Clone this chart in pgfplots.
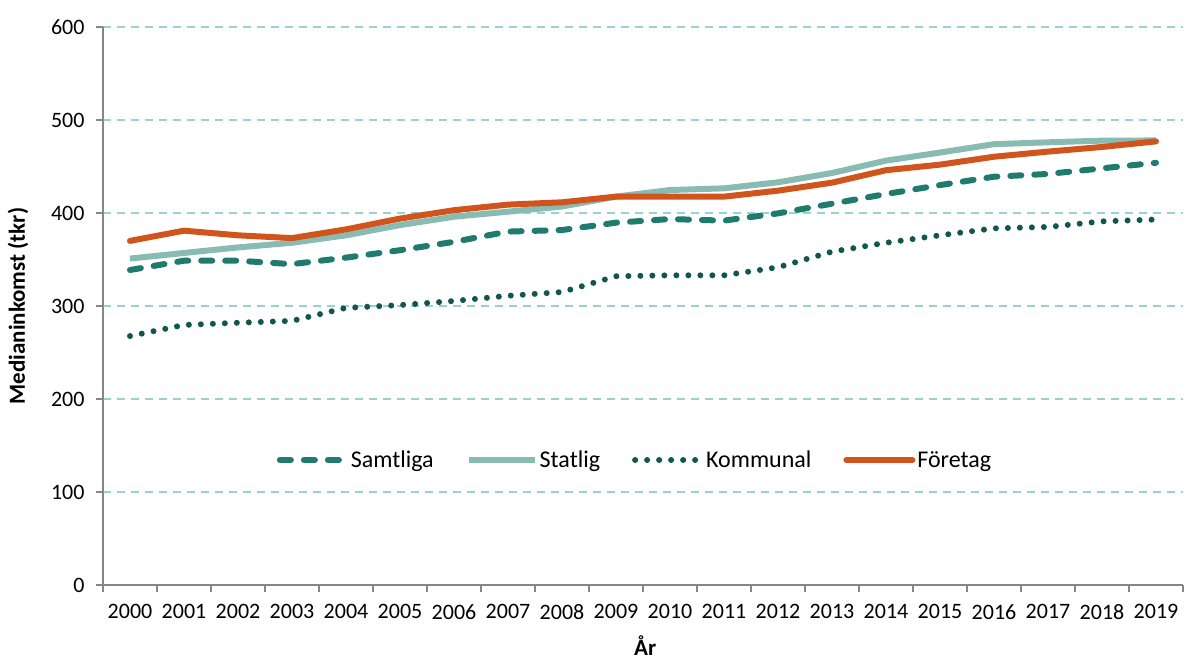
\documentclass[border=0pt]{standalone}
\usepackage{pgfplots}
\pgfplotsset{compat=1.18}
\usepackage{fontspec}
\setmainfont{Carlito}
\definecolor{samt}{HTML}{1F7B6E}
\definecolor{stat}{HTML}{88BCB2}
\definecolor{komm}{HTML}{13564E}
\definecolor{fore}{HTML}{D0541C}
\definecolor{gridc}{HTML}{99D3D0}
\definecolor{axc}{HTML}{868686}
\begin{document}
\begin{tikzpicture}
\useasboundingbox (-103pt,-76pt) rectangle (1083pt,585pt);
\begin{axis}[
  at={(0pt,0pt)}, anchor=south west,
  scale only axis, width=1080pt, height=558pt,
  xmin=-0.5, xmax=19.5, ymin=0, ymax=600,
  xtick={0,...,19},
  xticklabels={2000,2001,2002,2003,2004,2005,2006,2007,2008,2009,2010,2011,2012,2013,2014,2015,2016,2017,2018,2019},
  minor xtick={-0.5,0.5,...,19.5},
  ytick={0,100,...,600},
  major x tick style={draw=none},
  minor x tick style={draw=axc, line width=1.5pt},
  y tick style={draw=axc, line width=1.5pt},
  tick align=outside,
  major tick length=7pt, minor tick length=7pt,
  axis x line*=bottom, axis y line*=left,
  axis line style={draw=axc, line width=1.5pt, -},
  ymajorgrids,
  major grid style={draw=gridc, line width=1.5pt, dash pattern=on 8pt off 6pt},
  /pgf/number format/assume math mode=true,
  tick label style={font=\fontsize{22}{26}\selectfont, text=black},
  xticklabel style={yshift=-9pt},
  yticklabel style={xshift=-8pt},
  ylabel={\bfseries Medianinkomst (tkr)},
  ylabel style={at={(axis description cs:-0.0787,0.5)}, anchor=center, font=\fontsize{23}{27}\selectfont},
  xlabel={\bfseries År},
  xlabel style={at={(axis description cs:0.502,-0.108)}, anchor=center, inner sep=0pt, font=\fontsize{23}{27}\selectfont},
  legend columns=4,
  legend style={at={(axis description cs:0.4926,0.224)}, anchor=center, draw=none, fill=none,
    font=\fontsize{24}{28}\selectfont, /tikz/every even column/.append style={column sep=30pt}},
  legend cell align=left,
  legend image code/.code={\draw[#1] (0pt,0pt) -- (66pt,0pt);},
]
\addplot[samt, line width=6pt, line cap=round, dash pattern=on 11pt off 13pt] coordinates {
(0,338.7) (1,348.7) (2,348.7) (3,345) (4,352) (5,360) (6,369) (7,380) (8,381.7) (9,389.6)
(10,393.5) (11,391.8) (12,399.6) (13,410) (14,420.4) (15,430) (16,439) (17,442) (18,448) (19,454)};
\addlegendentry{Samtliga}
\addplot[stat, line width=6pt, line join=round] coordinates {
(0,351) (1,357) (2,363) (3,368) (4,376) (5,387) (6,396) (7,401.4) (8,407) (9,417.6)
(10,424.7) (11,426.5) (12,433) (13,443) (14,456.3) (15,465) (16,474) (17,476) (18,477.8) (19,478)};
\addlegendentry{Statlig}
\addplot[komm, line width=6pt, line cap=round, dash pattern=on 0pt off 12pt] coordinates {
(0,267.7) (1,279.6) (2,282) (3,284) (4,298) (5,301) (6,305.4) (7,311) (8,315) (9,332)
(10,333) (11,333) (12,341.6) (13,358.4) (14,368) (15,376) (16,383.5) (17,385) (18,391) (19,393)};
\addlegendentry{Kommunal}
\addplot[fore, line width=6pt, line join=round, line cap=round] coordinates {
(0,370) (1,381) (2,376) (3,373) (4,382.4) (5,394) (6,403) (7,409) (8,411.5) (9,417.6)
(10,417.6) (11,417.6) (12,424) (13,432.6) (14,446) (15,452) (16,460.5) (17,466) (18,471) (19,477)};
\addlegendentry{Företag}
\end{axis}
\end{tikzpicture}
\end{document}
